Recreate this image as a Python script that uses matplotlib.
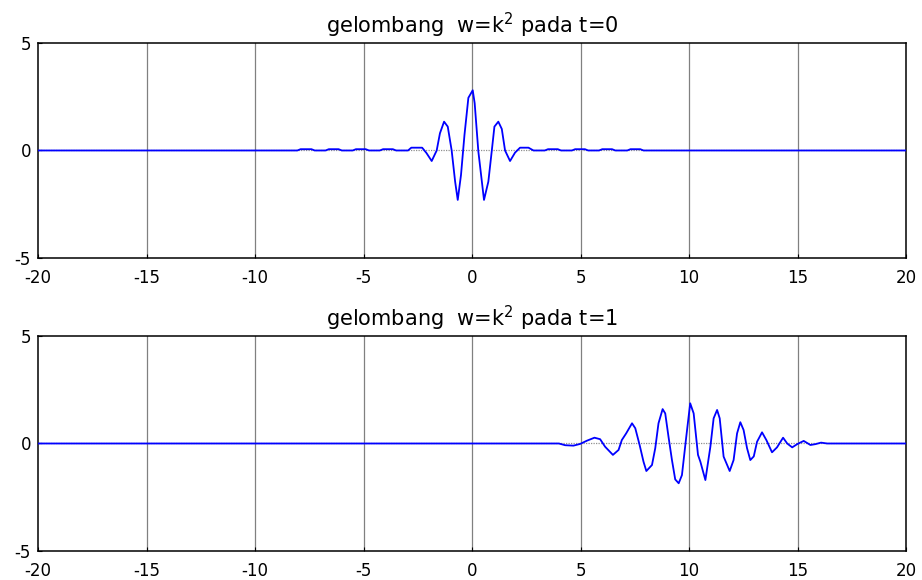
import numpy as np
import matplotlib
matplotlib.use('Agg')
import matplotlib.pyplot as plt

plt.rcParams['axes.unicode_minus'] = False
plt.rcParams['font.family'] = ['DejaVu Sans']

# paket gelombang pada t=0 (titik-titik kurva)
x_t0 = [-20.0, -8.05, -7.9, -7.4, -7.25, -6.75, -6.6, -6.15, -6.0,
        -5.5, -5.35, -4.9, -4.75, -4.25, -4.1, -3.65, -3.5,
        -2.95, -2.8, -2.3, -2.1, -1.86, -1.63, -1.48, -1.29, -1.12,
        -0.94, -0.78, -0.66, -0.51, -0.35, -0.17, 0.03, 0.12, 0.29,
        0.55, 0.75, 0.91, 1.03, 1.21, 1.37, 1.52, 1.75, 1.98, 2.21,
        2.6, 2.83, 3.35, 3.5, 3.95, 4.1, 4.6, 4.75, 5.2, 5.35,
        5.85, 6.0, 6.45, 6.6, 7.15, 7.3, 7.75, 7.9, 20.0]
y_t0 = [0.0, 0.0, 0.06, 0.06, 0.0, 0.0, 0.06, 0.06, 0.0,
        0.0, 0.06, 0.06, 0.0, 0.0, 0.06, 0.06, 0.0,
        0.0, 0.13, 0.13, -0.12, -0.49, 0.0, 0.8, 1.34, 1.11,
        0.0, -1.45, -2.3, -1.14, 0.72, 2.45, 2.8, 2.2, -0.05,
        -2.3, -1.45, 0.0, 1.11, 1.34, 1.0, 0.0, -0.49, -0.1, 0.13,
        0.13, 0.0, 0.0, 0.06, 0.06, 0.0, 0.0, 0.06, 0.06, 0.0,
        0.0, 0.06, 0.06, 0.0, 0.0, 0.06, 0.06, 0.0, 0.0]

# paket gelombang pada t=1
x_t1 = [-20.0, 4.0, 4.29, 4.67, 4.98, 5.29, 5.64, 5.9, 6.13, 6.49,
        6.75, 6.9, 7.1, 7.37, 7.52, 7.72, 7.9, 8.03, 8.29, 8.44,
        8.59, 8.78, 8.9, 9.05, 9.21, 9.36, 9.52, 9.67, 9.87, 10.05,
        10.21, 10.41, 10.52, 10.75, 10.98, 11.13, 11.29, 11.41, 11.59,
        11.87, 12.05, 12.21, 12.36, 12.51, 12.67, 12.82, 12.98, 13.13,
        13.36, 13.56, 13.82, 14.05, 14.33, 14.52, 14.75, 14.98, 15.28,
        15.59, 15.82, 16.08, 16.36, 20.0]
y_t1 = [0.0, 0.0, -0.08, -0.1, -0.02, 0.13, 0.27, 0.2, -0.15, -0.53,
        -0.3, 0.16, 0.47, 0.94, 0.71, -0.07, -0.85, -1.28, -1.0, -0.22,
        0.94, 1.6, 1.4, 0.32, -0.77, -1.67, -1.85, -1.47, 0.32, 1.87,
        1.4, -0.53, -0.85, -1.7, -0.15, 1.17, 1.56, 1.17, -0.61,
        -1.28, -0.77, 0.47, 0.99, 0.63, -0.22, -0.77, -0.6, 0.08,
        0.52, 0.16, -0.41, -0.18, 0.27, 0.0, -0.18, -0.03, 0.12,
        -0.07, -0.03, 0.04, 0.0, 0.0]

titles = ['gelombang  w=k$^2$ pada t=0', 'gelombang  w=k$^2$ pada t=1']
xticks = [-20, -15, -10, -5, 0, 5, 10, 15, 20]
yticks = [-5, 0, 5]

fig = plt.figure(figsize=(9.22, 5.8), dpi=100)
ax1 = fig.add_axes([0.0412, 0.5552, 0.9416, 0.3707])
ax2 = fig.add_axes([0.0412, 0.0500, 0.9416, 0.3707])

for ax, xs, ys, title in [(ax1, x_t0, y_t0, titles[0]), (ax2, x_t1, y_t1, titles[1])]:
	# garis grid vertikal dan garis nol
	for xv in xticks[1:-1]:
		ax.axvline(xv, color='#808080', lw=0.9, zorder=1)
	ax.axhline(0, color='#909090', lw=0.9, ls=(0, (1, 1)), zorder=1)
	ax.plot(xs, ys, color='#0000ff', lw=1.3, zorder=3)
	ax.set_xlim(-20, 20)
	ax.set_ylim(-5, 5)
	ax.set_xticks(xticks)
	ax.set_yticks(yticks)
	ax.tick_params(direction='in', length=3, labelsize=12, colors='black')
	ax.tick_params(axis='x', pad=8)
	ax.tick_params(axis='y', pad=5)
	for s in ax.spines.values():
		s.set_linewidth(1.1)
		s.set_color('black')
	ax.set_title(title, fontsize=15, pad=7)

fig.savefig('out.png', dpi=100)
